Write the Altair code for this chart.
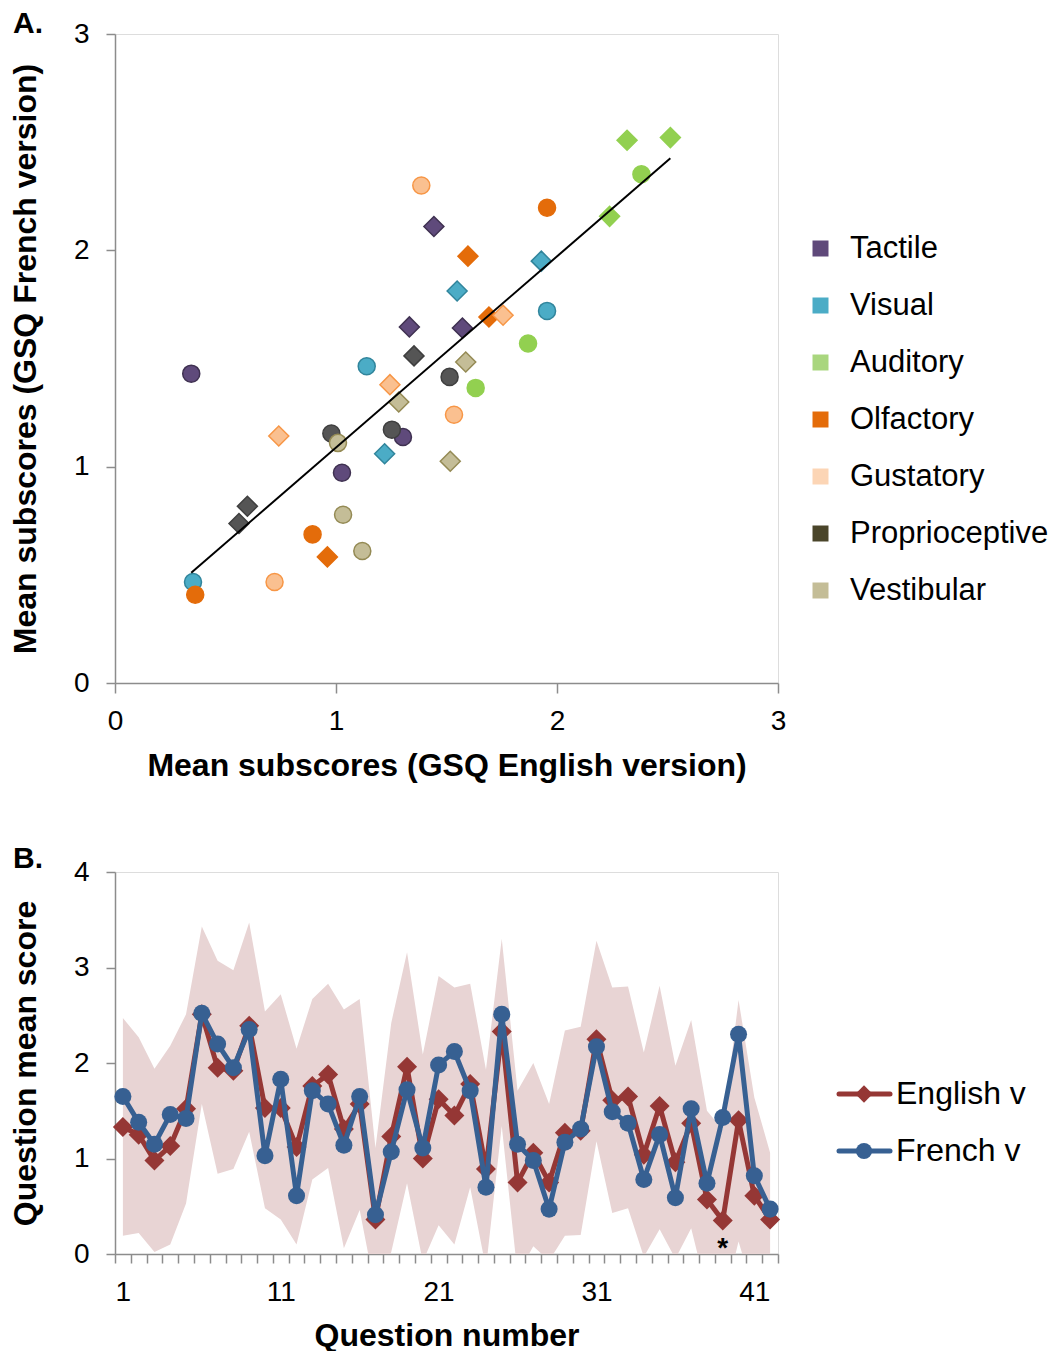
import altair as alt
import pandas as pd

FONT = "Liberation Sans"

# ---------------- Panel A data (one point per question) ----------------
categories = ["Tactile", "Visual", "Auditory", "Olfactory", "Gustatory",
              "Proprioceptive", "Vestibular"]
point_category = (["Tactile"] * 6 + ["Visual"] * 6 + ["Auditory"] * 6 +
                  ["Olfactory"] * 6 + ["Gustatory"] * 6 +
                  ["Proprioceptive"] * 6 + ["Vestibular"] * 6)
point_shape = ["circle", "circle", "circle", "diamond", "diamond", "diamond"] * 7
english_sub = [0.345, 1.303, 1.027, 1.443, 1.332, 1.572,
               0.353, 1.139, 1.955, 1.548, 1.929, 1.220,
               2.382, 1.869, 1.632, 2.317, 2.513, 2.238,
               1.955, 0.894, 0.363, 1.597, 1.692, 0.961,
               1.386, 1.534, 0.722, 1.244, 1.756, 0.741,
               1.514, 0.979, 1.253, 1.353, 0.599, 0.561,
               1.009, 1.032, 1.119, 1.284, 1.587, 1.517]
french_sub = [1.430, 1.137, 0.972, 2.110, 1.646, 1.641,
              0.467, 1.464, 1.720, 1.812, 1.950, 1.060,
              2.352, 1.569, 1.364, 2.509, 2.521, 2.157,
              2.197, 0.687, 0.408, 1.973, 1.692, 0.583,
              2.300, 1.240, 0.467, 1.379, 1.700, 1.142,
              1.415, 1.153, 1.171, 1.512, 0.817, 0.737,
              1.110, 0.778, 0.610, 1.299, 1.484, 1.025]

# ---------------- Panel B data ----------------
question = list(range(1, 43))
english_q = [1.33, 1.25, 0.98, 1.13, 1.52, 2.51, 1.95, 1.92, 2.39, 1.53,
             1.53, 1.12, 1.76, 1.88, 1.31, 1.57, 0.36, 1.23, 1.96, 1.00,
             1.62, 1.45, 1.78, 0.89, 2.33, 0.75, 1.06, 0.75, 1.27, 1.29,
             2.25, 1.61, 1.65, 1.04, 1.55, 0.96, 1.37, 0.57, 0.35, 1.40,
             0.61, 0.36]
french_q = [1.65, 1.38, 1.15, 1.46, 1.42, 2.52, 2.20, 1.95, 2.35, 1.03,
            1.83, 0.61, 1.71, 1.57, 1.14, 1.65, 0.41, 1.07, 1.72, 1.11,
            1.98, 2.12, 1.71, 0.70, 2.51, 1.15, 0.98, 0.47, 1.17, 1.31,
            2.17, 1.49, 1.37, 0.78, 1.25, 0.59, 1.52, 0.74, 1.43, 2.30,
            0.82, 0.47]
band_upper = [2.47, 2.27, 1.94, 2.18, 2.51, 3.43, 3.07, 2.97, 3.47, 2.54,
              2.72, 2.15, 2.67, 2.83, 2.56, 2.67, 1.11, 2.42, 3.16, 2.09,
              2.91, 2.79, 2.83, 1.93, 3.30, 1.71, 2.00, 1.57, 2.34, 2.38,
              3.28, 2.79, 2.80, 2.11, 2.81, 1.97, 2.45, 1.50, 1.30, 2.66,
              1.64, 1.06]
band_lower = [0.19, 0.22, 0.02, 0.10, 0.53, 1.57, 0.84, 0.89, 1.28, 0.48,
              0.36, 0.10, 0.78, 0.90, 0.06, 0.46, -0.39, 0.02, 0.74, -0.08,
              0.30, 0.10, 0.70, -0.15, 1.34, -0.21, 0.08, -0.07, 0.19, 0.20,
              1.18, 0.43, 0.48, -0.03, 0.26, -0.05, 0.27, -0.40, -0.55, 0.13,
              -0.42, -0.34]
series_names = ["English v", "French v"]
series_shapes = ["diamond", "circle"]
asterisk_question = [39]

# ---------------- styles ----------------
fill_colors = ["#5F4A7B", "#4BACC6", "#92D050", "#E46C0A", "#FAC090", "#555555", "#C4BD97"]
stroke_colors = ["#3F3151", "#31859C", "#92D050", "#E46C0A", "#F79646", "#3F3F3F", "#948A54"]
legend_colors = ["#5F497A", "#4BACC6", "#A9D67E", "#E46C0A", "#FCD5B5", "#4A452A", "#C4BD97"]
series_colors = ["#953735", "#376092"]
AXIS_GRAY = "#8C8C8C"

axis_common = dict(grid=False, domainColor=AXIS_GRAY, tickColor=AXIS_GRAY,
                   domainWidth=1.5, tickWidth=1.5, labelFont=FONT, titleFont=FONT,
                   labelFontSize=28, titleFontSize=32, titleFontWeight="bold",
                   labelColor="black", titleColor="black", labelFlush=False,
                   labelOverlap=False)

# ---------------- Panel A ----------------
dfA = pd.DataFrame({"category": point_category, "shape": point_shape,
                    "english": english_sub, "french": french_sub})

xA = alt.X("english:Q", scale=alt.Scale(domain=[0, 3], nice=False),
           axis=alt.Axis(values=[0, 1, 2, 3], tickSize=10, labelPadding=14,
                         titlePadding=15, title="Mean subscores (GSQ English version)",
                         **axis_common))
yA = alt.Y("french:Q", scale=alt.Scale(domain=[0, 3], nice=False),
           axis=alt.Axis(values=[0, 1, 2, 3], tickSize=9, labelPadding=17,
                         titlePadding=31, title="Mean subscores (GSQ French version)",
                         **axis_common))
baseA = alt.Chart(dfA).encode(x=xA, y=yA)

legend_keys = baseA.mark_square(size=30, opacity=1, strokeWidth=0).encode(
    color=alt.Color("category:N",
                    scale=alt.Scale(domain=categories, range=legend_colors),
                    legend=alt.Legend(title=None, orient="none", legendX=690, legendY=199,
                                      symbolType="square", symbolSize=256,
                                      symbolStrokeWidth=0, labelFontSize=31,
                                      labelFont=FONT, labelColor="black",
                                      labelOffset=14, rowPadding=25, padding=0,
                                      labelLimit=400)))
pointsA = baseA.mark_point(filled=True, opacity=1, strokeWidth=1.5).encode(
    fill=alt.Fill("category:N", scale=alt.Scale(domain=categories, range=fill_colors), legend=None),
    stroke=alt.Stroke("category:N", scale=alt.Scale(domain=categories, range=stroke_colors), legend=None),
    shape=alt.Shape("shape:N", scale=alt.Scale(domain=["circle", "diamond"], range=["circle", "diamond"]), legend=None),
    size=alt.Size("shape:N", scale=alt.Scale(domain=["circle", "diamond"], range=[290, 400]), legend=None),
)
trend = baseA.transform_regression("english", "french").mark_line(color="black", strokeWidth=2)

chartA = alt.layer(legend_keys, pointsA, trend).properties(
    width=663, height=649,
    title=alt.TitleParams("A.", anchor="start", frame="group", dx=-102, dy=43, offset=0,
                          fontSize=30, fontWeight="bold", font=FONT, color="black",
                          baseline="alphabetic"))

# ---------------- Panel B ----------------
dfQ = pd.DataFrame({"q": question, "English v": english_q, "French v": french_q,
                    "upper": band_upper, "lower": band_lower})
longQ = dfQ.melt(id_vars=["q"], value_vars=series_names, var_name="series", value_name="score")

tick_positions = [i + 0.5 for i in range(0, 43)]
xB = alt.X("q:Q", scale=alt.Scale(domain=[0.5, 42.5], nice=False, zero=False),
           axis=alt.Axis(values=tick_positions, tickSize=9, labelPadding=15,
                         labelExpr="(datum.value - 0.5) % 10 == 0 && datum.value < 42 ? format(datum.value + 0.5, 'd') : ''",
                         labelOffset=7.9, titlePadding=14, title="Question number",
                         **axis_common))
yscaleB = alt.Scale(domain=[0, 4], nice=False)
yaxisB = alt.Axis(values=[0, 1, 2, 3, 4], tickSize=9, labelPadding=17, titlePadding=31,
                  title="Question mean score", **axis_common)

colorB = alt.Color("series:N", scale=alt.Scale(domain=series_names, range=series_colors), legend=None)
shapeB = alt.Shape("series:N", scale=alt.Scale(domain=series_names, range=series_shapes), legend=None)
sizeB = alt.Size("series:N", scale=alt.Scale(domain=series_names, range=[400, 290]), legend=None)

band = alt.Chart(dfQ).mark_area(color="#E8D4D4", clip=True).encode(
    x=xB, y=alt.Y("lower:Q", scale=yscaleB, axis=yaxisB), y2="upper:Q")

def series_layers(name):
    base = alt.Chart(longQ).transform_filter(alt.datum.series == name).encode(
        x=xB, y=alt.Y("score:Q", scale=yscaleB, axis=yaxisB), color=colorB)
    line = base.mark_line(strokeWidth=5, strokeJoin="round", strokeCap="round")
    pts = base.mark_point(filled=True, opacity=1).encode(shape=shapeB, size=sizeB)
    return [line, pts]

ast = alt.Chart(pd.DataFrame({"q": asterisk_question, "y0": [0] * len(asterisk_question)})).mark_text(
    text="*", fontSize=28, font=FONT, fontWeight="bold", baseline="alphabetic", dy=3, color="black"
).encode(x=xB, y=alt.Y("y0:Q", scale=yscaleB, axis=yaxisB))

plotB = alt.layer(band, *series_layers("English v"), *series_layers("French v"), ast)

# legend of panel B, drawn with its own point scale for rows
legB_df = pd.DataFrame({"series": series_names})
yL = alt.Y("series:N", scale=alt.Scale(type="point", domain=series_names, range=[222, 279], padding=0), axis=None)
legRule = alt.Chart(legB_df).mark_rule(strokeWidth=5, strokeCap="round").encode(
    x=alt.value(724), x2=alt.value(775), y=yL, color=colorB)
legPts = alt.Chart(legB_df).mark_point(filled=True, opacity=1).encode(
    x=alt.value(749), y=yL, color=colorB, shape=shapeB,
    size=alt.Size("series:N", scale=alt.Scale(domain=series_names, range=[300, 260]), legend=None))
legTxt = alt.Chart(legB_df).mark_text(align="left", baseline="middle", fontSize=32, font=FONT, color="black").encode(
    x=alt.value(781), y=yL, text="series:N")
legendB = alt.layer(legRule, legPts, legTxt)

chartB = alt.layer(plotB, legendB).resolve_scale(y="independent", size="independent").properties(
    width=663, height=382,
    title=alt.TitleParams("B.", anchor="start", frame="group", dx=-102, dy=40, offset=0,
                          fontSize=30, fontWeight="bold", font=FONT, color="black",
                          baseline="alphabetic"))

chart = alt.vconcat(chartA, chartB, spacing=61).resolve_scale(
    color="independent", shape="independent", size="independent",
    fill="independent", stroke="independent"
).properties(
    padding={"left": 0, "top": 0, "right": 0, "bottom": 0}
).configure_view(stroke=None).configure(font=FONT)

chart.save("out.html", embed_options={"renderer": "svg", "actions": False})
